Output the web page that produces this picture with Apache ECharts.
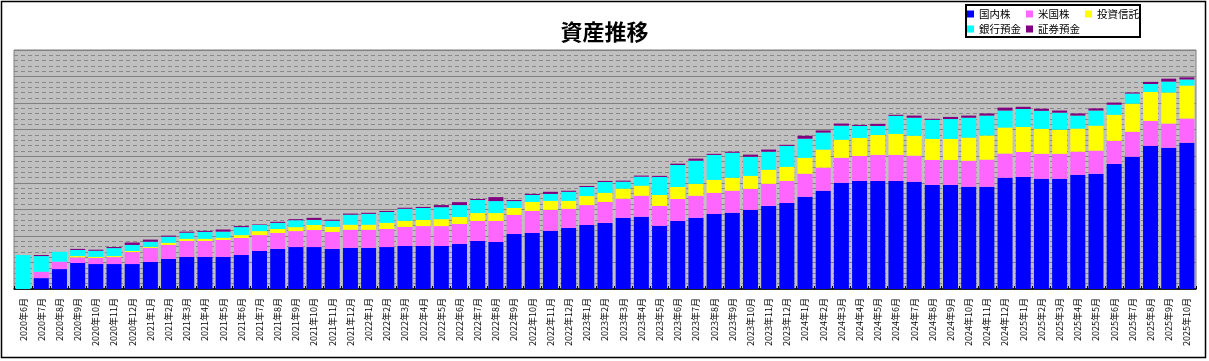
<!DOCTYPE html>
<html><head><meta charset="utf-8">
<script src="https://cdn.jsdelivr.net/npm/echarts@6/dist/echarts.min.js"></script>
<style>html,body{margin:0;padding:0;background:#fff}#c{width:1209px;height:361px}</style>
</head><body><div id="c"></div>
<script>
const categories = ['2020年6月','2020年7月','2020年8月','2020年9月','2020年10月','2020年11月','2020年12月',
'2021年1月','2021年2月','2021年3月','2021年4月','2021年5月','2021年6月','2021年7月','2021年8月','2021年9月','2021年10月','2021年11月','2021年12月',
'2022年1月','2022年2月','2022年3月','2022年4月','2022年5月','2022年6月','2022年7月','2022年8月','2022年9月','2022年10月','2022年11月','2022年12月',
'2023年1月','2023年2月','2023年3月','2023年4月','2023年5月','2023年6月','2023年7月','2023年8月','2023年9月','2023年10月','2023年11月','2023年12月',
'2024年1月','2024年2月','2024年3月','2024年4月','2024年5月','2024年6月','2024年7月','2024年8月','2024年9月','2024年10月','2024年11月','2024年12月',
'2025年1月','2025年2月','2025年3月','2025年4月','2025年5月','2025年6月','2025年7月','2025年8月','2025年9月','2025年10月'];
const domesticStocks = [0,4.1,7.5,9.8,9.4,9.4,9.4,10.2,11.3,12.1,12.1,12.1,12.8,14.3,15.1,15.8,15.8,15.1,15.5,15.5,15.8,16.2,16.2,16.2,17.0,18.1,17.7,20.7,21.1,21.9,23.0,24.1,24.9,26.8,27.2,23.8,25.6,26.8,28.3,28.7,29.8,31.3,32.4,34.7,37.0,40.0,40.7,40.7,40.7,40.4,39.2,39.2,38.5,38.5,41.9,42.2,41.5,41.5,43.0,43.4,47.1,49.8,53.9,53.2,55.1];
const usStocks = [0,2.4,2.8,2.1,2.3,2.6,4.5,5.3,5.3,6.0,6.0,6.4,6.4,6.0,6.0,6.0,6.4,6.4,6.8,6.8,6.8,7.2,7.5,7.5,7.5,7.5,7.9,7.2,8.3,7.9,7.2,7.5,7.9,7.2,7.9,7.5,8.3,8.3,7.9,8.3,7.9,8.3,8.3,8.7,8.7,9.4,9.4,9.8,9.8,9.8,9.4,9.4,9.8,10.2,9.1,9.4,9.4,9.4,8.7,8.7,8.7,9.4,9.4,9.1,9.1];
const investmentTrusts = [0,0,0,0.5,0.4,0.4,0.4,0.4,0.8,0.8,0.8,0.8,1.1,1.5,1.5,1.5,1.9,1.9,1.9,1.9,2.3,2.3,2.3,2.6,2.6,3.0,3.0,2.6,3.4,3.4,3.0,3.4,3.4,3.8,3.8,4.1,4.5,4.5,4.9,4.9,4.9,5.3,5.3,6.0,6.8,6.8,6.8,7.5,7.9,7.5,7.9,7.9,8.7,9.1,9.8,9.4,9.4,9.1,8.7,9.4,9.8,10.6,10.9,11.7,12.4];
const bankDeposits = [12.8,5.9,3.7,2.3,2.3,3.0,2.3,1.9,2.3,2.3,2.6,2.3,3.0,2.3,2.3,2.6,1.9,2.3,3.8,4.1,4.1,4.5,4.5,4.5,4.5,4.9,4.5,2.6,2.6,2.6,3.4,3.4,4.1,2.6,3.4,6.8,8.3,8.7,9.4,9.4,7.2,6.8,7.9,7.2,6.4,5.3,4.5,3.4,6.8,6.8,7.2,7.5,7.5,7.5,6.4,6.8,6.8,6.4,4.9,5.7,3.8,3.8,3.0,4.1,2.3];
const securitiesDeposits = [0,0.4,0,0.4,0.4,0.4,0.9,0.8,0.4,0.4,0.4,0.8,0.4,0.2,0.4,0.4,0.8,0.4,0.4,0.4,0.4,0.4,0.4,0.8,1.1,0.4,1.5,0.4,0.4,0.8,0.4,0.4,0.4,0.4,0.4,0.4,0.5,0.8,0.4,0.4,0.8,0.8,0.4,1.1,0.8,0.8,0.4,0.8,0.4,0.8,0.4,0.8,0.8,0.8,1.1,0.8,0.8,0.8,0.8,0.8,0.8,0.4,0.8,1.1,0.8];
const seriesNames = ['国内株','米国株','投資信託','銀行預金','証券預金'];
const seriesColors = ['#0000FF','#FF66FF','#FFFF00','#00FFFF','#800080'];
const seriesData = [domesticStocks, usStocks, investmentTrusts, bankDeposits, securitiesDeposits];

const font = "'Noto Sans CJK JP', sans-serif";
const chart = echarts.init(document.getElementById('c'), null, {renderer:'canvas'});
chart.setOption({
  animation: false,
  backgroundColor: '#fff',
  title: {text: '資産推移', left: 'center', top: 16,
    textStyle: {fontSize: 22, fontWeight: 'bold', color: '#000', fontFamily: font}},
  legend: {data: seriesNames, left: 967, top: 7, width: 180, padding: 0, itemGap: 1,
    itemWidth: 7, itemHeight: 7, icon: 'rect',
    textStyle: {fontSize: 10.5, color: '#000', fontFamily: font, width: 46, lineHeight: 14}},
  graphic: [
    {type: 'rect', shape: {x: 1.5, y: 1.5, width: 1204, height: 356}, style: {fill: 'none', stroke: '#000', lineWidth: 1.5}, z: 100},
    {type: 'rect', shape: {x: 966, y: 5, width: 174, height: 32}, style: {fill: 'none', stroke: '#000', lineWidth: 2}, z: 100}
  ],
  grid: {left: 14, right: 13, top: 50, bottom: 72, show: true, backgroundColor: '#C0C0C0', borderColor: '#808080', borderWidth: 1},
  xAxis: {type: 'category', data: categories,
    axisLine: {lineStyle: {color: '#000', width: 1.5}},
    axisTick: {show: true, inside: true, length: 3, lineStyle: {color: '#000'}},
    axisLabel: {rotate: 90, interval: 0, fontSize: 9, color: '#000', margin: 9, fontFamily: font}},
  yAxis: {type: 'value', min: 0, max: 90, interval: 10,
    axisLabel: {show: false}, axisLine: {show: false}, axisTick: {show: false},
    splitLine: {lineStyle: {color: '#808080', width: 1}},
    minorTick: {show: false, splitNumber: 5},
    minorSplitLine: {show: true, lineStyle: {color: '#888888', width: 1, type: [4, 3]}}},
  series: seriesNames.map((n, i) => ({
    name: n, type: 'bar', stack: 'total', data: seriesData[i], barWidth: 15,
    itemStyle: {color: seriesColors[i]}
  }))
});
</script></body></html>
